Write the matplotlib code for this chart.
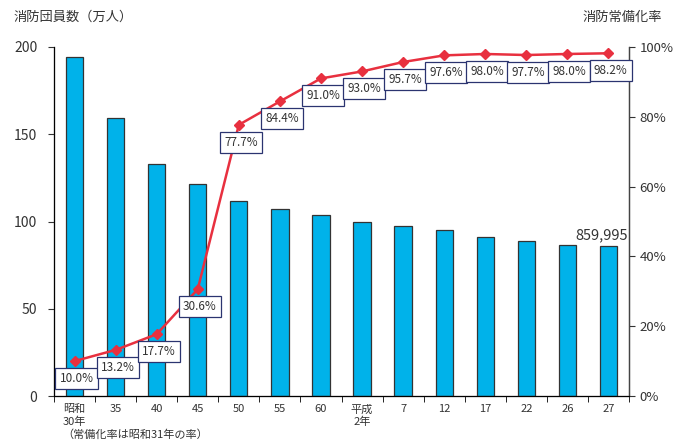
import numpy as np
import matplotlib

matplotlib.use("Agg")
import matplotlib.pyplot as plt

plt.rcParams["font.family"] = ["Noto Sans CJK JP", "DejaVu Sans"]

# data
categories = ["昭和\n30年", "35", "40", "45", "50", "55", "60", "平成\n2年",
              "7", "12", "17", "22", "26", "27"]
members = [194.4, 159.3, 133.2, 121.5, 112.0, 107.0, 103.5, 99.7,
           97.5, 95.1, 91.0, 88.6, 86.4, 86.0]
rate = [10.0, 13.2, 17.7, 30.6, 77.7, 84.4, 91.0, 93.0,
        95.7, 97.6, 98.0, 97.7, 98.0, 98.2]
rate_labels = [f"{r:.1f}%" for r in rate]

TXT = "#333333"
BAR = "#00b2ea"
LINE = "#e8303f"
BOX = "#2b3470"

fig = plt.figure(figsize=(6.81, 4.41), dpi=100)
ax = fig.add_axes([54 / 681, 45 / 441, 575 / 681, 349 / 441])
x = np.arange(len(categories))

ax.bar(x, members, width=0.42, color=BAR, edgecolor="#333333", linewidth=0.9,
       zorder=2)
ax.set_xlim(-0.5, len(categories) - 0.5)
ax.set_ylim(0, 200)
ax.set_yticks([0, 50, 100, 150, 200])
ax.tick_params(axis="y", direction="out", length=4, labelsize=10,
               colors=TXT, pad=8)
ax.set_xticks(x)
ax.set_xticklabels(categories, fontsize=8, color=TXT, linespacing=1.3,
                   va="top")
ax.tick_params(axis="x", length=0, pad=6)
ax.set_xticks(np.arange(-0.5, len(categories)), minor=True)
ax.tick_params(axis="x", which="minor", direction="out", length=4)
ax.spines["top"].set_visible(False)
for s in ["left", "bottom", "right"]:
    ax.spines[s].set_color("#444444")
    ax.spines[s].set_linewidth(0.9)

ax.text(len(categories) - 1 + 0.48, members[-1] + 2, "859,995",
        ha="right", va="bottom", fontsize=10.5, color=TXT)

ax2 = ax.twinx()
ax2.set_ylim(0, 100)
ax2.set_yticks(np.arange(0, 101, 20))
ax2.set_yticklabels([f"{t}%" for t in range(0, 101, 20)])
ax2.tick_params(axis="y", direction="out", length=4, labelsize=9.5,
                colors=TXT, pad=3.5)
ax2.spines["top"].set_visible(False)
ax2.spines["right"].set_color("#444444")
ax2.spines["right"].set_linewidth(0.9)
ax2.plot(x, rate, color=LINE, linewidth=1.8, marker="D", markersize=5,
         zorder=3)
for xi, r, lab in zip(x, rate, rate_labels):
    ax2.annotate(lab, (xi, r), xytext=(1.5, -12.5), textcoords="offset points",
                 ha="center", va="center", fontsize=8.5, color=TXT,
                 bbox=dict(boxstyle="square,pad=0.35", facecolor="white",
                           edgecolor=BOX, linewidth=0.9))

fig.text(13 / 681, 1 - 17 / 441, "消防団員数（万人）", fontsize=9.5,
         color=TXT, va="center", ha="left")
fig.text(662 / 681, 1 - 17 / 441, "消防常備化率", fontsize=9.5,
         color=TXT, va="center", ha="right")
fig.text(62 / 681, 1 - 435 / 441, "（常備化率は昭和31年の率）", fontsize=8,
         color=TXT, va="center", ha="left")

fig.savefig("out.png", dpi=100)
